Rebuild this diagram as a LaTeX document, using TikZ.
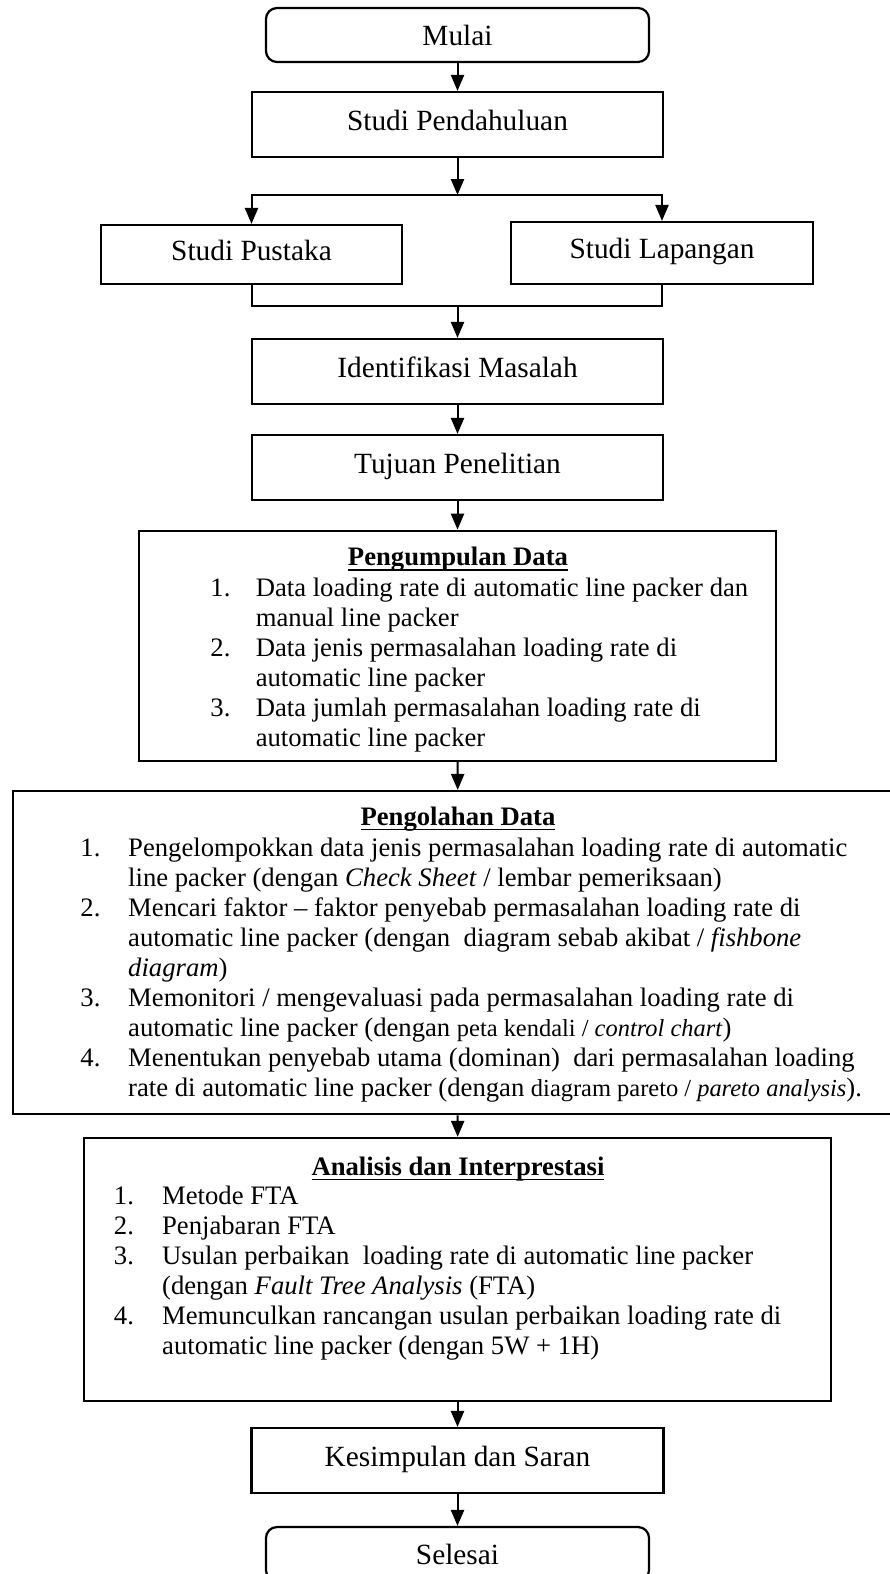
\documentclass[tikz,border=0pt]{standalone}
\usepackage{fontspec}
\setmainfont{Liberation Serif}
\usepackage{tikz}
\usetikzlibrary{arrows.meta}
\usetikzlibrary{positioning,calc,backgrounds}
\pgfdeclarelayer{edgelayer}
\pgfdeclarelayer{nodelayer}
\pgfsetlayers{background,edgelayer,nodelayer,main}
\newsavebox{\titlebox}
\newcommand{\titleline}[1]{\sbox{\titlebox}{#1}\rlap{\rule[-2.4pt]{\wd\titlebox}{0.8pt}}\usebox{\titlebox}}
\tikzstyle{stepbox}=[draw,rectangle,line width=1pt,inner sep=0pt,text height=9pt,text depth=4pt,font=\fontsize{13.2}{15}\selectfont]
\tikzstyle{endbox}=[stepbox,rounded corners=5pt,text depth=0pt]
\tikzstyle{bigbox}=[draw,rectangle,line width=1pt,inner sep=0pt]
\tikzstyle{boxtitle}=[inner sep=0pt,anchor=base,font=\fontsize{12}{13.5}\selectfont\bfseries]
\tikzstyle{boxlist}=[inner sep=0pt,anchor=base west,font=\fontsize{12}{13.5}\selectfont]
\tikzstyle{plainedge}=[line width=0.9pt]
\tikzstyle{diredge}=[plainedge,-{Triangle[length=7.2pt,width=5.9pt]}]

\begin{document}
\begin{tikzpicture}[x=0.45pt,y=-0.45pt]
	\useasboundingbox (0,0) rectangle (890,1574);
	\begin{pgfonlayer}{nodelayer}
		\node [style=endbox,minimum width=172.4pt,minimum height=24.3pt] (mulai) at (457.5,35) {Mulai};
		\node [style=stepbox,minimum width=185pt,minimum height=29.25pt] (pendahuluan) at (457.5,124.5) {Studi Pendahuluan};
		\node [style=stepbox,minimum width=135.5pt,minimum height=26.55pt] (pustaka) at (251.5,254.5) {Studi Pustaka};
		\node [style=stepbox,minimum width=135.9pt,minimum height=27.9pt] (lapangan) at (662,253) {Studi Lapangan};
		\node [style=stepbox,minimum width=185.2pt,minimum height=29.25pt] (identifikasi) at (457.5,371.5) {Identifikasi Masalah};
		\node [style=stepbox,minimum width=185.2pt,minimum height=29.25pt] (tujuan) at (457.5,467.5) {Tujuan Penelitian};
		\node [style=bigbox,minimum width=286.9pt,minimum height=103.5pt] (kumpul) at (457.5,645.7) {};
		\node [style=bigbox,minimum width=400.6pt,minimum height=145.5pt] (olah) at (457.9,952.7) {};
		\node [style=bigbox,minimum width=336.2pt,minimum height=118.4pt] (analisis) at (457.5,1269.5) {};
		\node [style=stepbox,minimum width=185.4pt,minimum height=29.25pt] (kesimpulan) at (457.5,1460.5) {Kesimpulan dan Saran};
		\node [style=endbox,minimum width=172.4pt,minimum height=24.3pt] (selesai) at (457.5,1554) {Selesai};

		\node [style=boxtitle] (kumpul-title) at (458,565.7) {\titleline{Pengumpulan Data}};
		\node [style=boxlist] (kumpul-list) at (210,596) {\begin{tabular}[t]{@{}p{20.4pt}@{}l@{}}
			1. & Data loading rate di automatic line packer dan\\
			   & manual line packer\\
			2. & Data jenis permasalahan loading rate di\\
			   & automatic line packer\\
			3. & Data jumlah permasalahan loading rate di\\
			   & automatic line packer
		\end{tabular}};

		\node [style=boxtitle] (olah-title) at (458,825) {\titleline{Pengolahan Data}};
		\node [style=boxlist] (olah-list) at (80,856.7) {\begin{tabular}[t]{@{}p{21.5pt}@{}l@{}}
			1. & Pengelompokkan data jenis permasalahan loading rate di automatic\\
			   & line packer (dengan \textit{Check Sheet} / lembar pemeriksaan)\\
			2. & Mencari faktor -- faktor penyebab permasalahan loading rate di\\
			   & automatic line packer (dengan \ diagram sebab akibat / \textit{fishbone}\\
			   & \textit{diagram})\\
			3. & Memonitori / mengevaluasi pada permasalahan loading rate di\\
			   & automatic line packer (dengan {\fontsize{11}{13.5}\selectfont peta kendali / \textit{control chart}})\\
			4. & Menentukan penyebab utama (dominan) \ dari permasalahan loading\\
			   & rate di automatic line packer (dengan {\fontsize{11}{13.5}\selectfont diagram pareto / \textit{pareto analysis}}).
		\end{tabular}};

		\node [style=boxtitle] (analisis-title) at (458,1175) {\titleline{Analisis dan Interprestasi}};
		\node [style=boxlist] (analisis-list) at (113.5,1204) {\begin{tabular}[t]{@{}p{21.7pt}@{}l@{}}
			1. & Metode FTA\\
			2. & Penjabaran FTA\\
			3. & Usulan perbaikan \ loading rate di automatic line packer\\
			   & (dengan \textit{Fault Tree Analysis} (FTA)\\
			4. & Memunculkan rancangan usulan perbaikan loading rate di\\
			   & automatic line packer (dengan 5W + 1H)
		\end{tabular}};

		\coordinate (split) at (457.5,195);
		\coordinate (merge) at (457.5,306);
	\end{pgfonlayer}
	\begin{pgfonlayer}{edgelayer}
		\draw [style=diredge] (mulai) -- (pendahuluan);
		\draw [style=diredge] (pendahuluan) -- (split);
		\draw [style=diredge] (split) -| (pustaka.north);
		\draw [style=diredge] (split) -| (lapangan.north);
		\draw [style=plainedge] (pustaka.south) |- (merge) -| (lapangan.south);
		\draw [style=diredge] (merge) -- (identifikasi);
		\draw [style=diredge] (identifikasi) -- (tujuan);
		\draw [style=diredge] (tujuan) -- (kumpul);
		\draw [style=diredge] (kumpul) -- (olah);
		\draw [style=diredge] (olah) -- (analisis);
		\draw [style=diredge] (analisis) -- (kesimpulan);
		\draw [style=diredge] (kesimpulan) -- (selesai);
	\end{pgfonlayer}
\end{tikzpicture}
\end{document}
